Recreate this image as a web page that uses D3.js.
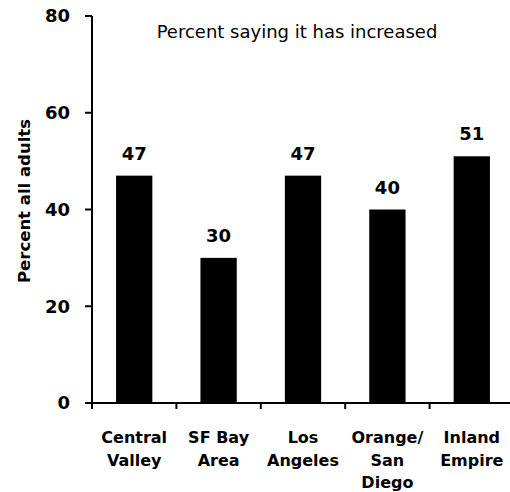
<!DOCTYPE html>
<html>
<head>
<meta charset="utf-8">
<script src="https://cdn.jsdelivr.net/npm/d3@7"></script>
<style>
  html, body { margin: 0; padding: 0; background: #fff; }
  svg { display: block; }
  text { font-family: "DejaVu Sans", sans-serif; fill: #000; }
</style>
</head>
<body>
<svg id="chart" width="510" height="492"></svg>
<script>
const categories = [["Central", "Valley"], ["SF Bay", "Area"], ["Los", "Angeles"], ["Orange/", "San", "Diego"], ["Inland", "Empire"]];
const values = [47, 30, 47, 40, 51];
const yTicks = [0, 20, 40, 60, 80];
const titleText = "Percent saying it has increased";
const yTitle = "Percent all adults";

const svg = d3.select("#chart");
const keys = categories.map((c, i) => "c" + i);

const x = d3.scaleBand().domain(keys).range([92, 514]).paddingInner(0.57).paddingOuter(0.285);
const y = d3.scaleLinear().domain([0, 80]).range([403, 16]);
const step = x.step();
const x0 = x.range()[0];

// bars
svg.append("g").selectAll("rect").data(values).join("rect")
  .attr("x", (d, i) => x(keys[i]))
  .attr("width", x.bandwidth())
  .attr("y", d => y(d))
  .attr("height", d => y(0) - y(d))
  .attr("fill", "#000");

// value labels
svg.append("g").selectAll("text").data(values).join("text")
  .attr("x", (d, i) => x(keys[i]) + x.bandwidth() / 2)
  .attr("y", d => y(d) - 16)
  .attr("text-anchor", "middle")
  .attr("font-size", 18).attr("font-weight", "bold")
  .text(d => d);

// y axis
const yAxis = svg.append("g");
yAxis.append("line").attr("x1", 92).attr("x2", 92).attr("y1", y(80)).attr("y2", y(0))
  .attr("stroke", "#000").attr("stroke-width", 2);
yAxis.selectAll("line.tick").data(yTicks).join("line").attr("class", "tick")
  .attr("x1", 85).attr("x2", 92).attr("y1", d => y(d)).attr("y2", d => y(d))
  .attr("stroke", "#000").attr("stroke-width", 2);
yAxis.selectAll("text").data(yTicks).join("text")
  .attr("x", 70).attr("y", d => y(d))
  .attr("dy", "0.36em")
  .attr("text-anchor", "end")
  .attr("font-size", 18).attr("font-weight", "bold")
  .text(d => d);

// x axis
const xAxis = svg.append("g");
xAxis.append("line").attr("x1", 92).attr("x2", 514).attr("y1", y(0)).attr("y2", y(0))
  .attr("stroke", "#000").attr("stroke-width", 2);
const bounds = d3.range(keys.length + 1).map(i => x0 + i * step);
xAxis.selectAll("line.tick").data(bounds).join("line").attr("class", "tick")
  .attr("x1", d => d).attr("x2", d => d).attr("y1", y(0)).attr("y2", y(0) + 6)
  .attr("stroke", "#000").attr("stroke-width", 2);

// category labels
const catG = svg.append("g").selectAll("text").data(categories).join("text")
  .attr("text-anchor", "middle")
  .attr("font-size", 16).attr("font-weight", "bold")
  .attr("x", (d, i) => x(keys[i]) + x.bandwidth() / 2)
  .attr("y", 443);
catG.selectAll("tspan").data(d => d).join("tspan")
  .attr("x", function() { return d3.select(this.parentNode).attr("x"); })
  .attr("dy", (d, j) => j === 0 ? 0 : 22.5)
  .text(d => d);

// title
svg.append("text")
  .attr("x", 297).attr("y", 38)
  .attr("text-anchor", "middle")
  .attr("font-size", 18)
  .text(titleText);

// y axis title
svg.append("text")
  .attr("transform", "translate(30,201) rotate(-90)")
  .attr("text-anchor", "middle")
  .attr("font-size", 16.5).attr("font-weight", "bold")
  .text(yTitle);
</script>
</body>
</html>
